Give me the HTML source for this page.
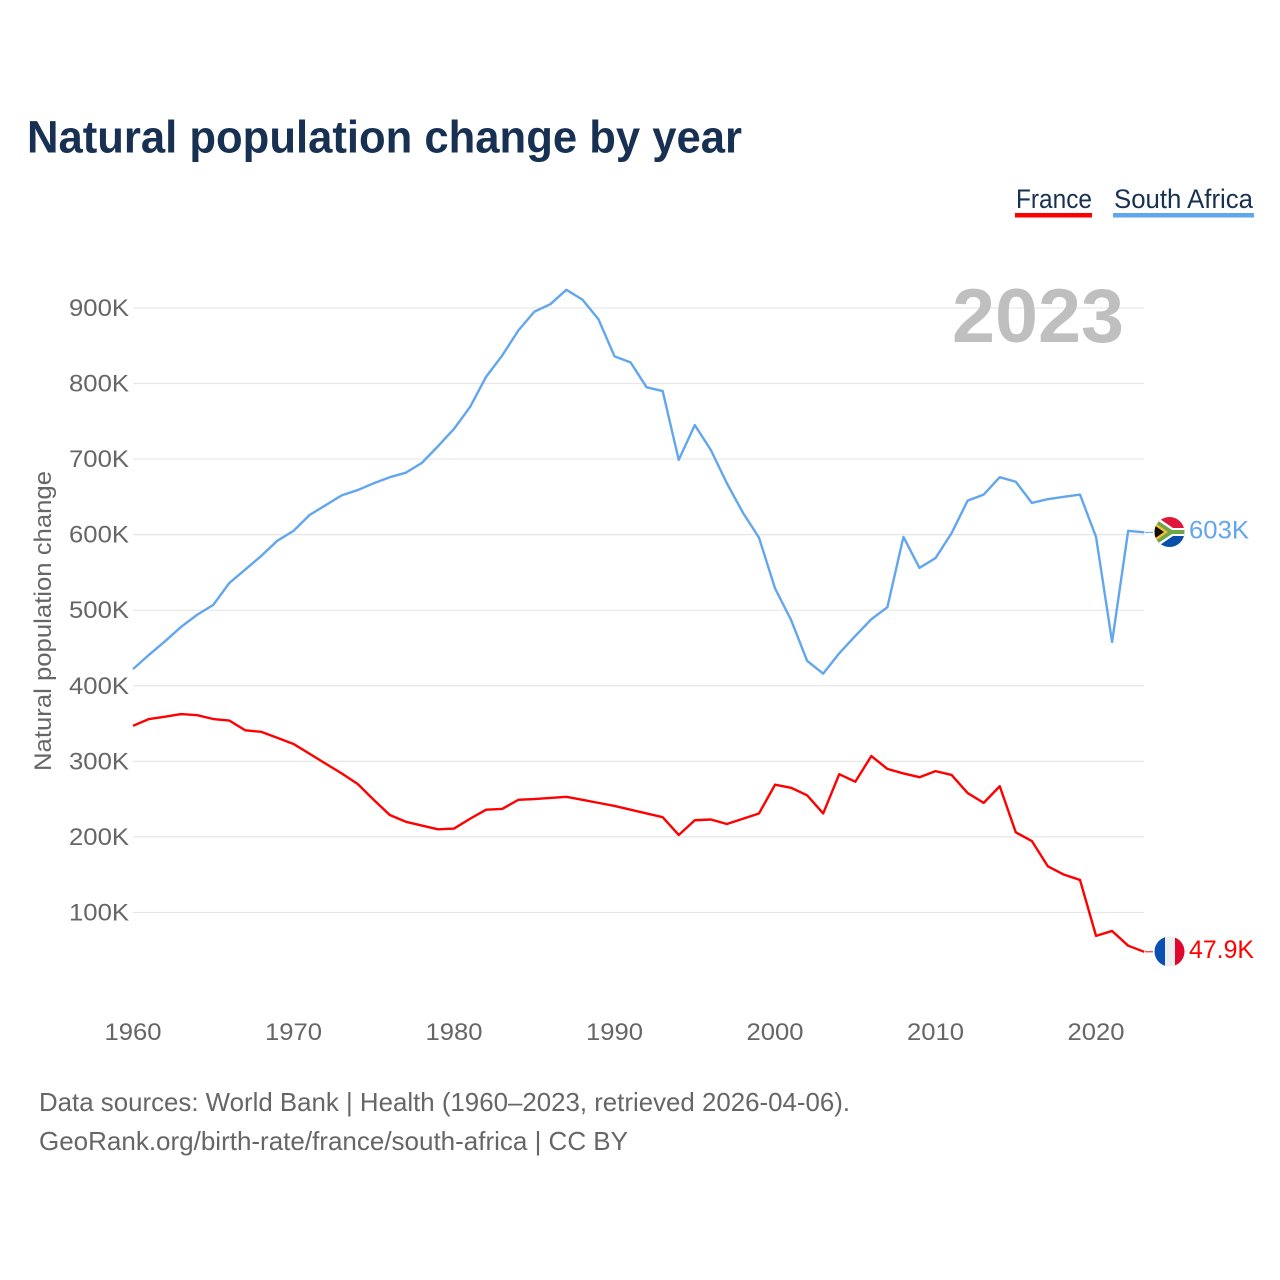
<!DOCTYPE html>
<html lang="en">
<head>
<meta charset="utf-8">
<title>Natural population change by year</title>
<style>
html,body{margin:0;padding:0;background:#fff;}
svg{display:block;font-family:"Liberation Sans",sans-serif;}
</style>
</head>
<body>
<svg id="chart" xmlns="http://www.w3.org/2000/svg" width="1280" height="1280" viewBox="0 0 1280 1280">
  <defs>
    <clipPath id="clip-za"><circle id="clip-za-circle" cx="1169.5" cy="532" r="15"></circle></clipPath>
    <clipPath id="clip-fr"><circle id="clip-fr-circle" cx="1169.5" cy="951.5" r="15"></circle></clipPath>
  </defs>
  <text x="27" y="152.5" font-size="45" font-weight="700" fill="#183153" textLength="715" lengthAdjust="spacingAndGlyphs">Natural population change by year</text>

  <g>
    <g>
      <text x="1016" y="208" font-size="27" fill="#183153" textLength="76" lengthAdjust="spacingAndGlyphs">France</text>
      <rect x="1015" y="213" width="77" height="4.5" fill="#ff0000"></rect>
    </g>
    <g>
      <text x="1114" y="208" font-size="27" fill="#183153" textLength="139" lengthAdjust="spacingAndGlyphs">South Africa</text>
      <rect x="1113" y="213" width="141" height="4.5" fill="#62a6ee"></rect>
    </g>
  </g>

  <g id="grid"></g>
  <text x="952" y="342" font-size="76" font-weight="700" fill="#bfbfbf" textLength="172" lengthAdjust="spacingAndGlyphs">2023</text>
  <g id="y-axis"></g>
  <g id="x-axis"></g>
  <text transform="translate(51,771) rotate(-90)" font-size="24" fill="#666666" textLength="300" lengthAdjust="spacingAndGlyphs">Natural population change</text>

  <polyline id="line-za" fill="none" stroke="#62a6ee" stroke-width="2.4" stroke-linejoin="round"></polyline>
  <polyline id="line-fr" fill="none" stroke="#ff0000" stroke-width="2.4" stroke-linejoin="round"></polyline>

  <line id="conn-za" x1="1145" x2="1153" stroke="#62a6ee" stroke-width="1"></line>
  <line id="conn-fr" x1="1145" x2="1153" stroke="#ff0000" stroke-width="1"></line>

  <g id="flag-za" clip-path="url(#clip-za)">
    <rect x="1154" y="516" width="31" height="16" fill="#e0173d"></rect>
    <rect x="1154" y="532" width="31" height="16" fill="#0a50a8"></rect>
    <path d="M1154 515 L1173 528 H1186 V536 H1173 L1154 549 Z" fill="#ffffff"></path>
    <path d="M1154 518 L1172 530 H1186 V534 H1172 L1154 546 Z" fill="#6fa64a"></path>
    <path d="M1154 522 L1168 532 L1154 542 Z" fill="#f5bf2e"></path>
    <path d="M1154 525 L1164 532 L1154 539 Z" fill="#111111"></path>
  </g>
  <g id="flag-fr" clip-path="url(#clip-fr)">
    <rect x="1154" y="936" width="11" height="31" fill="#0a50b4"></rect>
    <rect x="1165" y="936" width="10" height="31" fill="#eeeeee"></rect>
    <rect x="1175" y="936" width="11" height="31" fill="#e0062d"></rect>
  </g>

  <text x="1189" y="538.5" font-size="25" fill="#62a6ee" textLength="60" lengthAdjust="spacingAndGlyphs">603K</text>
  <text x="1189" y="958" font-size="25" fill="#ff0000" textLength="65" lengthAdjust="spacingAndGlyphs">47.9K</text>

  <g>
    <text x="39" y="1111" font-size="26" fill="#666666" textLength="811" lengthAdjust="spacingAndGlyphs">Data sources: World Bank | Health (1960–2023, retrieved 2026-04-06).</text>
    <text x="39" y="1150" font-size="26" fill="#666666" textLength="589" lengthAdjust="spacingAndGlyphs">GeoRank.org/birth-rate/france/south-africa | CC BY</text>
  </g>
</svg>
<script>
const firstYear = 1960;
const xTickYears = [1960, 1970, 1980, 1990, 2000, 2010, 2020];
const yTickValues = [100, 200, 300, 400, 500, 600, 700, 800, 900];
const yTickLabels = ["100K", "200K", "300K", "400K", "500K", "600K", "700K", "800K", "900K"];
const franceValues = [347, 356, 359, 362.6, 361, 356, 354, 341, 339, 331, 323, 310, 297, 284, 270, 249, 229, 220, 215, 210, 211, 224, 236, 237, 249, 250, 251.5, 253, 249, 245, 241, 236, 231, 226, 202.5, 222, 223, 217, 224, 231, 269, 265, 255, 231, 283, 273, 307, 290, 284, 279, 287, 282, 258, 245, 267, 206, 194.5, 161, 150, 143, 69, 75.5, 56, 47.9];
const southAfricaValues = [422, 441, 459, 478, 494, 507, 536, 554, 572, 592, 605, 626, 639, 652, 659, 668, 676, 682, 695, 717, 740, 769, 809, 837, 870, 895, 905, 924, 911, 885, 836, 828, 795, 790, 699, 745, 712, 668, 629, 596, 529, 487, 433, 416, 443, 466, 488, 504, 597, 556, 569, 602, 645, 653, 676, 670, 642, 647, 650, 653, 597, 458, 605, 603];

const SVG_NS = "http://www.w3.org/2000/svg";
const plotLeft = 133;
const plotRight = 1144.2;
const zeroY = 988;

function xScale(year) {
  return plotLeft + (year - 1960) * (plotRight - plotLeft) / 63;
}
function yScale(value) {
  return zeroY - value * 0.7556;
}
function pointsFor(values) {
  return values.map(function (v, i) {
    return xScale(firstYear + i).toFixed(2) + "," + yScale(v).toFixed(2);
  }).join(" ");
}

const gridGroup = document.getElementById("grid");
const yAxisGroup = document.getElementById("y-axis");
const xAxisGroup = document.getElementById("x-axis");

yTickValues.forEach(function (value, i) {
  const gridLine = document.createElementNS(SVG_NS, "line");
  
  
  gridLine.setAttribute("x1", plotLeft);
  gridLine.setAttribute("x2", plotRight);
  gridLine.setAttribute("y1", yScale(value));
  gridLine.setAttribute("y2", yScale(value));
  gridLine.setAttribute("stroke", "#e6e6e6");
  gridLine.setAttribute("stroke-width", "1.2");
  gridGroup.appendChild(gridLine);

  const label = document.createElementNS(SVG_NS, "text");
  
  
  label.setAttribute("x", "69");
  label.setAttribute("y", yScale(value) + 8);
  label.setAttribute("font-size", "24");
  label.setAttribute("fill", "#666666");
  label.setAttribute("textLength", "60");
  label.setAttribute("lengthAdjust", "spacingAndGlyphs");
  label.textContent = yTickLabels[i];
  yAxisGroup.appendChild(label);
});

xTickYears.forEach(function (year) {
  const label = document.createElementNS(SVG_NS, "text");
  
  
  label.setAttribute("x", xScale(year) - 28.5);
  label.setAttribute("y", "1040");
  label.setAttribute("font-size", "24");
  label.setAttribute("fill", "#666666");
  label.setAttribute("textLength", "57");
  label.setAttribute("lengthAdjust", "spacingAndGlyphs");
  label.textContent = String(year);
  xAxisGroup.appendChild(label);
});

document.getElementById("line-fr").setAttribute("points", pointsFor(franceValues));
document.getElementById("line-za").setAttribute("points", pointsFor(southAfricaValues));

const frLastY = yScale(franceValues[franceValues.length - 1]);
const zaLastY = yScale(southAfricaValues[southAfricaValues.length - 1]);
document.getElementById("conn-fr").setAttribute("y1", frLastY);
document.getElementById("conn-fr").setAttribute("y2", frLastY);
document.getElementById("conn-za").setAttribute("y1", zaLastY);
document.getElementById("conn-za").setAttribute("y2", zaLastY);
</script>
</body>
</html>
